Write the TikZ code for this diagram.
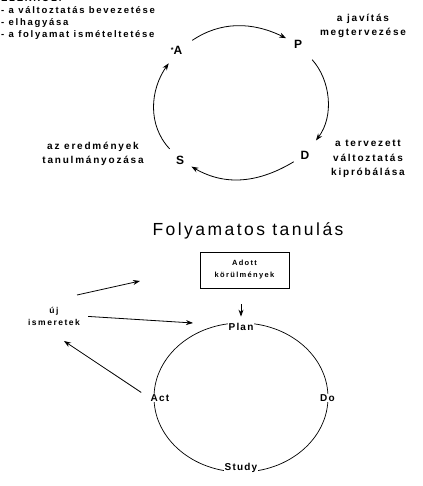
\documentclass[tikz,border=0pt]{standalone}
\usepackage{fontspec}
\setmainfont{Liberation Sans}
\newfontfamily\spaced[LetterSpace=18]{Liberation Sans}
\newfontfamily\midspaced[LetterSpace=12]{Liberation Sans}
\newfontfamily\titlef[LetterSpace=14]{Liberation Sans}
\usetikzlibrary{arrows.meta}
\begin{document}
\begin{tikzpicture}[x=1pt,y=1pt,
  lbl/.style={font=\spaced\bfseries\fontsize{10}{14.5}\selectfont, align=center, inner sep=0pt},
  letter/.style={font=\bfseries\fontsize{12}{14}\selectfont, circle, inner sep=0pt, minimum size=26pt},
  small/.style={font=\spaced\bfseries\fontsize{8.5}{12}\selectfont, align=center, inner sep=1pt},
  stage/.style={font=\midspaced\bfseries\fontsize{10}{11}\selectfont, fill=white, inner sep=1pt},
  arr/.style={-{Stealth[length=7pt,width=5pt]}, line width=0.8pt},
  cyc/.style={line width=0.7pt}]
\useasboundingbox (0,0) rectangle (422,486);
% top-left list
\node[lbl, anchor=base west, align=left, font=\spaced\bfseries\fontsize{9.5}{12}\selectfont] (list) at (1,448)
  {ELEKRŐL:\\- a változtatás bevezetése\\- elhagyása\\- a folyamat ismételtetése};
% PDSA cycle
\node[letter] (A) at (178,436) {\llap{\raisebox{2pt}{\fontsize{7}{7}\selectfont *}}A};
\node[letter] (P) at (298,442) {P};
\node[letter] (D) at (305,331) {D};
\node[letter] (S) at (180,326) {S};
\draw[arr, shorten <=4pt] (A) to[out=34,in=154] (P);
\draw[arr, shorten <=8pt, shorten >=5pt] (P) to[out=-48,in=53] (D);
\draw[arr] (D) to[out=211,in=-30] (S);
\draw[arr, shorten <=2pt, shorten >=3pt] (S) to[out=133,in=235] (A);
\node[lbl, anchor=base] (pl) at (363,450) {a javítás\\megtervezése};
\node[lbl, anchor=base] (dl) at (368,310) {a tervezett\\változtatás\\kipróbálása};
\node[lbl, anchor=base] (sl) at (93,322) {az eredmények\\tanulmányozása};
% title
\node[font=\titlef\fontsize{17.5}{20}\selectfont, inner sep=0pt] (title) at (248,255) {Folyamatos tanulás};
% bottom part
\node[draw, line width=0.8pt, minimum width=89pt, minimum height=36pt, small, font=\spaced\bfseries\fontsize{7.5}{12}\selectfont] (adott) at (244.5,216) {Adott\\körülmények};
\draw[cyc] (241,88.5) ellipse[x radius=87, y radius=74.5];
\node[stage] (plan) at (241,159) {Plan};
\node[stage] (act) at (160,88) {Act};
\node[stage] (do) at (327.5,88) {Do};
\node[stage] (study) at (241,18) {Study};
\node[small] (uj) at (54,170) {új\\ismeretek};
\coordinate (f1s) at (77,191);
\coordinate (f1) at (140,205);
\coordinate (f2) at (193,163);
\coordinate (f3) at (64,145);
\draw[arr, shorten <=16pt, shorten >=5.5pt] (plan.north |- adott.south) -- (plan.north);
\draw[arr] (f1s) -- (f1);
\draw[arr, shorten <=7pt] (uj.east) -- (f2);
\draw[arr, shorten <=10pt] (act.west) -- (f3);
\end{tikzpicture}
\end{document}
